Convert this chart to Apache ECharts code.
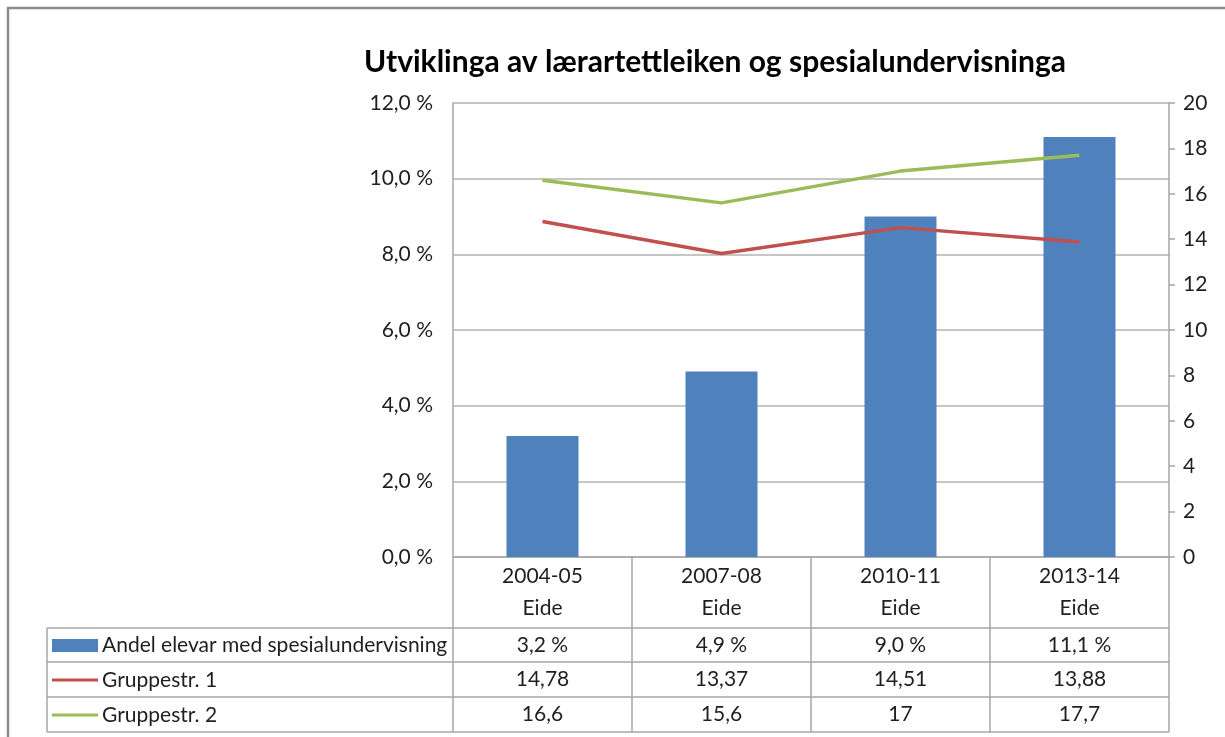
<!DOCTYPE html>
<html lang="no">
<head>
<meta charset="UTF-8">
<title>Utviklinga av lærartettleiken og spesialundervisninga</title>
<script src="https://cdn.jsdelivr.net/npm/echarts@6/dist/echarts.min.js"></script>
<style>
  body { margin: 0; padding: 0; background: #fff; }
  #main { width: 1225px; height: 737px; }
</style>
</head>
<body>
<div id="main"></div>
<script>
// data
var years = ['2004-05', '2007-08', '2010-11', '2013-14'];
var place = ['Eide', 'Eide', 'Eide', 'Eide'];
var andel = [3.2, 4.9, 9.0, 11.1];          // prosent
var grupp1 = [14.78, 13.37, 14.51, 13.88];
var grupp2 = [16.6, 15.6, 17, 17.7];
var seriesNames = ['Andel elevar med spesialundervisning', 'Gruppestr. 1', 'Gruppestr. 2'];
var colors = ['#4F81BD', '#C0504D', '#9BBB59'];

var FONT = 'Lato';
var FS = 21;
var txt = '#1f1f1f';
var lineCol = '#a6a6a6';

function pct(v) { return v.toFixed(1).replace('.', ',') + ' %'; }
function num(v) { return String(v).replace('.', ','); }

// plot frame
var gLeft = 453, gRight = 1169, gTop = 103, gBottom = 557;
var rowY = [628, 662, 697, 732];
var tableLeft = 47;

var chart = echarts.init(document.getElementById('main'));

var legends = seriesNames.map(function (n, i) {
  return {
    data: [{
      name: n,
      icon: i === 0 ? 'rect' : 'path://M0,0H46V3H0Z'
    }],
    left: 52,
    top: (rowY[i] + rowY[i + 1]) / 2 - 10,
    itemWidth: 46,
    itemHeight: 13,
    itemGap: 0,
    padding: 0,
    selectedMode: false,
    textStyle: { fontFamily: FONT, fontSize: FS, color: txt, padding: [0, 0, 0, -1] }
  };
});

var option = {
  animation: false,
  title: {
    text: 'Utviklinga av lærartettleiken og spesialundervisninga',
    left: 710,
    textAlign: 'center',
    top: 42,
    textStyle: { fontFamily: FONT, fontWeight: 'bold', fontSize: 30, color: '#000' }
  },
  legend: legends,
  grid: { left: gLeft, right: 1225 - gRight, top: gTop, bottom: 737 - gBottom },
  xAxis: {
    type: 'category',
    data: years.map(function (y, i) { return y + '\n' + place[i]; }),
    axisLine: { lineStyle: { color: lineCol, width: 1.5 } },
    axisTick: { show: true, length: rowY[0] - gBottom, lineStyle: { color: lineCol, width: 1.5 } },
    axisLabel: { fontFamily: FONT, fontSize: FS, color: txt, lineHeight: 32, margin: 3 }
  },
  yAxis: [{
    type: 'value',
    min: 0, max: 12, interval: 2,
    axisLine: { show: true, lineStyle: { color: lineCol, width: 1.5 } },
    axisTick: { show: false },
    splitLine: { lineStyle: { color: '#b3b3b3', width: 1.5 } },
    axisLabel: { fontFamily: FONT, fontSize: FS, color: txt, margin: 20, formatter: pct }
  }, {
    type: 'value',
    min: 0, max: 20, interval: 2,
    position: 'right',
    axisLine: { show: true, lineStyle: { color: lineCol, width: 1.5 } },
    axisTick: { show: true, length: 6, lineStyle: { color: lineCol, width: 1.5 } },
    splitLine: { show: false },
    axisLabel: { fontFamily: FONT, fontSize: FS, color: txt, margin: 14 }
  }],
  series: [{
    name: seriesNames[0],
    type: 'bar',
    data: andel,
    barWidth: 72,
    color: colors[0],
    yAxisIndex: 0
  }, {
    name: seriesNames[1],
    type: 'line',
    data: grupp1,
    yAxisIndex: 1,
    color: colors[1],
    showSymbol: false,
    symbol: 'none',
    lineStyle: { width: 3.5 }
  }, {
    name: seriesNames[2],
    type: 'line',
    data: grupp2,
    yAxisIndex: 1,
    color: colors[2],
    showSymbol: false,
    symbol: 'none',
    lineStyle: { width: 3.5 }
  }]
};
chart.setOption(option);

// data table below the plot
var rows = [andel.map(pct), grupp1.map(num), grupp2.map(num)];
var elements = [];
// outer chart border
elements.push({ type: 'rect', shape: { x: 8, y: 8, width: 1400, height: 900 },
  style: { fill: null, stroke: '#8c8c8c', lineWidth: 2.5 }, silent: true });
var bounds = [gLeft];
years.forEach(function (y, i) {
  var c = chart.convertToPixel({ xAxisIndex: 0 }, i);
  bounds.push(c * 2 - bounds[bounds.length - 1]);
});
bounds[bounds.length - 1] = gRight;
rowY.forEach(function (y) {
  elements.push({ type: 'line', shape: { x1: tableLeft, y1: y, x2: gRight, y2: y },
    style: { stroke: lineCol, lineWidth: 1.5 }, silent: true });
});
[tableLeft].concat(bounds).forEach(function (x) {
  elements.push({ type: 'line', shape: { x1: x, y1: rowY[0], x2: x, y2: rowY[3] },
    style: { stroke: lineCol, lineWidth: 1.5 }, silent: true });
});
rows.forEach(function (r, ri) {
  r.forEach(function (t, ci) {
    elements.push({
      type: 'text',
      x: chart.convertToPixel({ xAxisIndex: 0 }, ci),
      y: (rowY[ri] + rowY[ri + 1]) / 2,
      style: { text: t, fontFamily: FONT, fontSize: FS, fill: txt, align: 'center', verticalAlign: 'middle' },
      silent: true
    });
  });
});
chart.setOption({ graphic: { elements: elements } });
</script>
</body>
</html>
